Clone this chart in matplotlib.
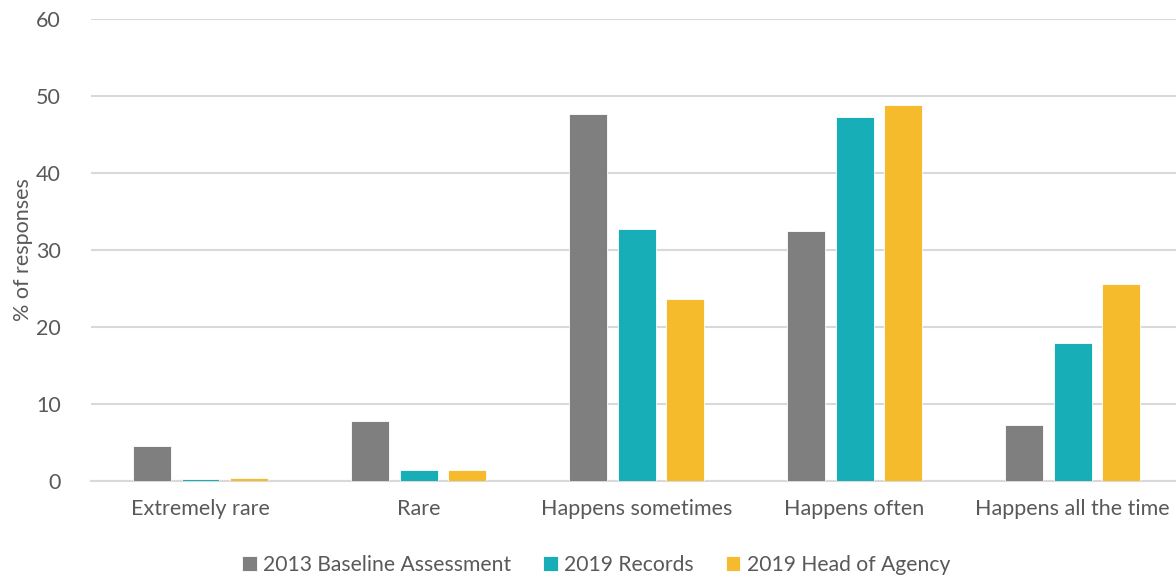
import matplotlib.pyplot as plt
import numpy as np

categories = ["Extremely rare", "Rare", "Happens sometimes", "Happens often", "Happens all the time"]
series_names = ["2013 Baseline Assessment", "2019 Records", "2019 Head of Agency"]
baseline_2013 = [4.6, 7.8, 47.6, 32.4, 7.3]
records_2019 = [0.3, 1.5, 32.7, 47.3, 17.9]
head_agency_2019 = [0.45, 1.45, 23.6, 48.8, 25.6]
yticks = [0, 10, 20, 30, 40, 50, 60]

colors = ["#7f7f7f", "#17aeb8", "#f6bb2c"]
text_color = "#595959"

plt.rcParams["font.family"] = ["Lato", "DejaVu Sans"]

fig = plt.figure(figsize=(11.76, 5.8), dpi=100)
ax = fig.add_axes([0.0778, 0.170, 0.927, 0.798])

x = np.arange(len(categories))
width = 0.174
step = 0.221
for i, (vals, name) in enumerate(zip([baseline_2013, records_2019, head_agency_2019], series_names)):
    ax.bar(x + (i - 1) * step, vals, width, color=colors[i], label=name,
           edgecolor="white", linewidth=0.6, zorder=3)

ax.set_xlim(-0.5, len(categories) - 0.5)
ax.set_ylim(0, 60)
ax.set_yticks(yticks)
ax.yaxis.grid(True, color="#d9d9d9", linewidth=1.5, zorder=0)
ax.set_axisbelow(True)
for s in ["top", "right", "left"]:
    ax.spines[s].set_visible(False)
ax.spines["bottom"].set_color("#d9d9d9")
ax.spines["bottom"].set_linewidth(1.5)
ax.tick_params(axis="both", length=0, labelsize=15.5, colors=text_color)
ax.tick_params(axis="y", pad=22)
ax.tick_params(axis="x", pad=13)
ax.set_xticks(x)
ax.set_xticklabels(categories)
ax.set_ylabel("% of responses", fontsize=15.5, color=text_color, labelpad=2)

ax.legend(loc="center", bbox_to_anchor=(0.463, -0.181), ncol=3, frameon=False,
          fontsize=15.2, labelcolor=text_color, handlelength=0.7, handleheight=0.7,
          handletextpad=0.3, columnspacing=1.5)

fig.savefig("out.png", dpi=100)
